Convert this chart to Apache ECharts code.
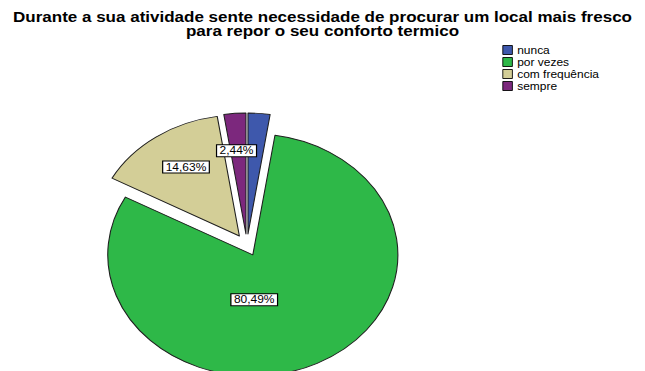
<!DOCTYPE html>
<html>
<head>
<meta charset="utf-8">
<script src="https://cdn.jsdelivr.net/npm/echarts@6/dist/echarts.min.js"></script>
<style>
  html, body { margin: 0; padding: 0; background: #ffffff; overflow: hidden; }
  /* chart is laid out at a narrower width and widened horizontally */
  #wrap { width: 645px; height: 371px; overflow: hidden; }
  #chart { width: 538px; height: 371px; transform: scaleX(1.19888); transform-origin: 0 0; }
</style>
</head>
<body>
<div id="wrap"><div id="chart"></div></div>
<script>
// Survey answers and their shares (% of 41 respondents)
const categories = ['nunca', 'por vezes', 'com frequência', 'sempre'];
const shares = [2.44, 80.49, 14.63, 2.44];
const colors = ['#3E58AC', '#2EB848', '#D3CE97', '#7C287D'];
const titleText = 'Durante a sua atividade sente necessidade de procurar um local mais fresco\npara repor o seu conforto termico';

// per-slice label nudges and visibility
const labelShifts = [[0, 0], [-27, -12], [-8, -17], [-3, -20]];
const labelShown = [false, true, true, true];

const fmt = v => v.toFixed(2).replace('.', ',') + '%';

const data = categories.map((name, i) => ({
  name: name,
  value: shares[i],
  selected: true,
  itemStyle: { color: colors[i] },
  label: { show: labelShown[i] }
}));

const chart = echarts.init(document.getElementById('chart'), null, { renderer: 'svg' });
chart.setOption({
  backgroundColor: '#ffffff',
  animation: false,
  title: {
    text: titleText,
    left: 'center',
    top: 5,
    textStyle: {
      fontFamily: 'Liberation Sans, Arial, sans-serif',
      fontSize: 14.2,
      fontWeight: 'bold',
      color: '#000000',
      lineHeight: 14
    }
  },
  legend: {
    orient: 'vertical',
    left: 414,
    top: 40,
    itemWidth: 8,
    itemHeight: 9,
    itemGap: 2,
    icon: 'rect',
    selectedMode: false,
    data: categories,
    itemStyle: { borderColor: '#000000', borderWidth: 0.8 },
    textStyle: {
      fontFamily: 'Liberation Sans, Arial, sans-serif',
      fontSize: 10,
      color: '#000000',
      padding: [0, 0, 0, -1]
    }
  },
  series: [{
    type: 'pie',
    center: [206, 245],
    radius: 121,
    startAngle: 90,
    clockwise: true,
    selectedMode: 'multiple',
    selectedOffset: 11,
    silent: true,
    emphasis: { disabled: true },
    itemStyle: { borderColor: '#1e1e1e', borderWidth: 0.9 },
    label: {
      position: 'inside',
      formatter: p => fmt(p.value),
      fontFamily: 'Liberation Sans, Arial, sans-serif',
      fontSize: 10,
      color: '#000000',
      backgroundColor: '#ffffff',
      borderColor: '#000000',
      borderWidth: 1,
      padding: [1, 2, 0, 2]
    },
    labelLayout: p => ({ dx: labelShifts[p.dataIndex][0], dy: labelShifts[p.dataIndex][1] }),
    labelLine: { show: false },
    data: data
  }]
});
</script>
</body>
</html>
